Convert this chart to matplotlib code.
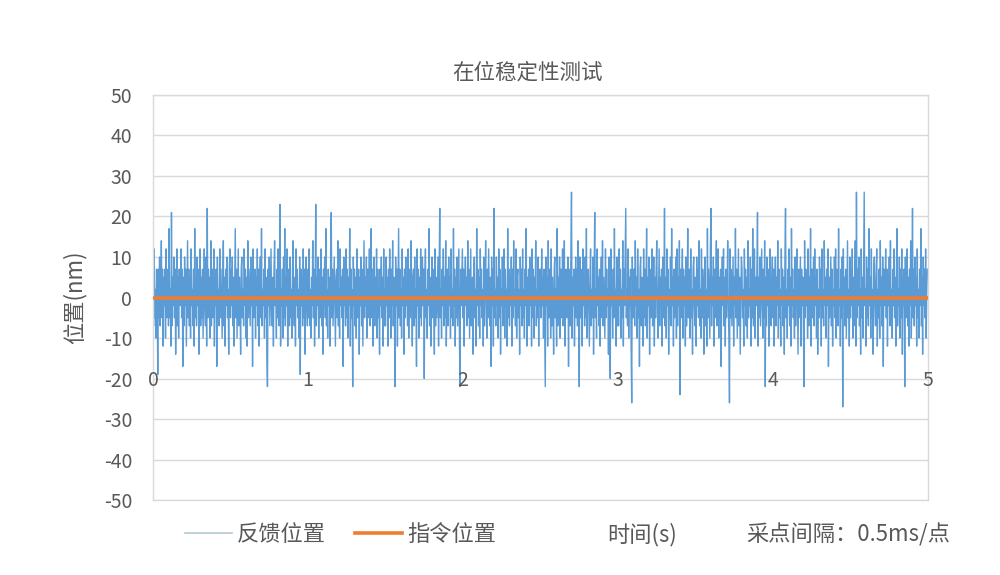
import numpy as np
import matplotlib
matplotlib.use("Agg")
import matplotlib.pyplot as plt
from matplotlib.lines import Line2D

plt.rcParams['font.family'] = ['Noto Sans CJK SC', 'DejaVu Sans']

# ---- data: feedback position (nm), one list per half second of the record ----
fb_00 = [5, -7, 12, -5, 2, -10, 7, -2, -19, 7, -5, 10, -7, 2, 14, -5, 7, -12, 5, -2,
         7, -10, 12, -5, 0, 7, -7, 17, -5, 2, -12, 21, -7, 5, -2, 10, -5, 7, -14, 2,
         12, -7, 5, -10, 7, -2, 0, 12, -5, 7, -17, 5, -7, 10, -2, 7, -12, 2, 14, -5,
         7, -7, 5, -10, 12, -2, 2, -7, 7, -12, 17, -5, 5, -7, 10, -2, 7, -14, 2, 12,
         -7, 5, -5, 7, -10, 2, 12, -2, -7, 10, -12, 22, -5, 7, -2, 5, -10, 14, -7, 2,
         7, -5, 12, -12, 5, -2, 7, -17, 10, -5, 2, -7, 12, -5, 7, -2, -10, 5, 14, -7,
         5, -12, 7, -2, 10, -5, 2, -14, 7, 12]
fb_01 = [-5, 7, -2, 10, -7, 5, -12, 2, 17, -5, 7, -10, 2, 12, -7, 5, -2, -14, 7, 10,
         -5, 2, -7, 12, -2, 7, -10, 5, -12, 14, -5, 7, 0, -7, 10, -2, 5, -17, 12, -5,
         2, 7, -10, 5, -2, 12, -7, 7, -12, 2, 10, -5, 17, -7, 2, -2, 7, -10, 12, -5,
         5, -14, -22, 7, -2, 10, -7, 2, 12, -5, -7, 5, -12, 7, 14, -2, 2, -10, 7, -5,
         12, -7, 5, 23, -12, 2, -2, 7, -10, 10, -5, 17, -7, 5, -2, 12, -12, 7, 2, -7,
         10, -5, 2, -10, 7, 14, -2, -7, 5, -12, 12, -2, 7, -5, 2, -10, 10, -19, 7, -2,
         5, -7, 12, -5, 7, -14, 2, 10, -2, -7]
fb_02 = [7, -5, 12, -7, 2, -10, 5, -2, 14, -5, 7, -12, 2, 23, -7, 5, -2, 10, -10, 7,
         -5, 2, 12, -7, 5, -14, 7, -2, 10, -5, 17, -7, 2, -10, 7, -2, 5, -12, 12, 21,
         -5, 7, -7, 2, 10, -2, -12, 5, 7, -5, 14, -7, 2, -10, 12, -2, 5, -5, 7, -17,
         10, -2, 2, -7, 12, -5, 7, -10, 5, -2, 17, -12, 7, -5, 2, -22, 10, -2, 7, -7,
         5, -10, 12, -5, 2, 7, -14, 5, -2, 10, -7, 7, -12, 2, 14, -5, 5, -2, 10, -10,
         7, -5, 2, 12, -7, -2, 17, -5, 7, -12, 2, 10, -7, 5, -2, 12, -10, 7, -5, 2,
         -14, 7, -2, 10, -5, 5, -12, 12, -7, 2]
fb_03 = [-7, 10, -2, 5, -12, 7, -5, 12, 2, -10, 7, -2, 14, -7, 5, -5, -22, 10, -2, 7,
         -12, 2, 17, -5, 7, -7, 2, -10, 12, -2, 5, -14, 7, -5, 10, -2, 2, -7, 12, -10,
         7, -5, 2, 14, -2, -12, 5, 7, -7, 10, -5, 2, -17, 12, -2, 7, -10, 5, -5, 12,
         -7, 2, 10, -2, 7, -20, 5, 12, -5, 2, -10, 7, -2, 17, -7, 5, -12, 2, 10, -5,
         7, -2, -14, 12, -7, 5, -5, 2, 10, -12, 7, 22, -5, 2, -10, 7, -2, 12, -7, 5,
         -5, 14, -12, 2, 7, -7, 10, -2, 5, -10, 12, -5, 2, -7, 17, -2, 7, -12, 5, -5,
         10, -7, 2, 12, -10, -22, 7, -2, 5, 12]
fb_04 = [-5, 7, -12, 2, 10, -2, 5, -7, 14, -5, 7, -10, 2, 12, -7, -2, 5, -14, 7, 10,
         -5, 2, -12, 17, -2, 7, -7, 5, -10, 12, -2, 7, -5, 2, -12, 10, -7, 5, 14, -2,
         -10, 7, -5, 12, 2, -7, 5, -17, 10, -2, 7, -12, 22, -5, 2, -7, 10, -2, 5, -10,
         12, -5, 7, -14, 2, -2, 10, -7, 5, 12, -10, 7, -2, 2, -12, 17, -5, 7, -7, 5,
         -2, 10, -12, 7, -5, 14, -2, 2, -7, 12, -10, 5, 7, -5, 2, -14, 10, -2, 7, -7,
         12, -5, 2, -10, 7, -2, 17, -12, 5, -5, 7, -7, 10, -2, 2, -12, 12, -5, 7, -10,
         5, -2, 14, -7, 2, -5, 10, -12, 7, -2]
fb_05 = [7, -5, 12, -2, 5, -10, 7, -7, -22, 10, -2, 5, -12, 14, -5, 2, 7, -10, 12, -7,
         5, -2, -14, 7, 10, -5, 2, -12, 17, -7, 5, -2, 10, -10, 7, -5, 2, 12, -7, -2,
         14, -12, 5, 7, -5, -2, 10, -17, 7, 2, -7, 12, 26, -10, 5, -2, 7, -12, 2, 10,
         -5, 7, -7, 14, -2, -22, 10, -5, 7, 2, -12, 12, -2, 5, -7, 10, -5, 17, -10, 2,
         7, -2, -12, 5, 12, -7, 2, -5, 10, -14, 7, 21, -5, 2, -10, 12, -2, 5, -7, 7,
         -12, 2, 10, -5, 14, -7, 5, -2, -10, 12, -5, 7, -2, 2, -14, 10, -7, -20, 12, -2,
         5, -10, 7, -5, 17, -2, 2, -12, 10, -7]
fb_06 = [5, -7, 12, -2, 7, -10, 2, -5, 14, -12, 7, -2, 10, 22, -5, 2, -7, 12, -10, 5,
         -2, 7, -12, -26, 10, -5, 2, 7, -7, 14, -2, 5, -10, 12, -5, 2, -17, 7, 10, -7,
         5, -2, -12, 12, -5, 7, -7, 2, 17, -10, 5, -2, 10, -14, 7, -5, 2, 12, -7, -2,
         10, -12, 5, -5, 7, 14, -2, -10, 2, 12, -7, 5, -2, 7, -12, 10, -5, 2, 22, -7,
         5, -10, 12, -2, 7, -14, 2, -5, 10, -7, 17, -2, 5, -12, 7, -5, 2, 10, -10, 12,
         -7, 5, -2, 14, -24, 7, -5, 2, 12, -10, 7, -2, 5, -12, 10, -7, 2, 17, -5, -2,
         7, -10, 12, -5, 2, -14, 7, 10, -2, -7]
fb_07 = [5, -12, 10, -2, 7, -5, 14, -7, 2, -10, 12, -5, 7, -2, -14, 5, 10, -7, 2, -12,
         17, -5, 7, -2, -10, 12, 22, -7, 5, -2, 10, -12, 7, -5, 2, 14, -7, -2, 12, -10,
         5, -5, 7, -17, 2, 10, -2, 12, -7, 5, -12, 7, -5, 2, 14, -2, -10, -26, 12, -5,
         7, -7, 2, 10, -12, 5, -2, 17, -5, 7, -10, 2, 12, -7, 5, -14, -2, 10, 7, -5,
         2, -12, 12, -2, 7, -7, 5, -10, 14, -5, 2, -2, 10, -12, 7, -5, 17, -7, 2, 12,
         -10, 5, -2, 7, 21, -12, 5, -5, 10, -7, 2, 12, -2, -10, 7, -5, 14, -22, 5, -7,
         10, -2, 7, -12, 2, 12, -5, -7, 5, 10]
fb_08 = [-5, 7, -12, 2, 10, -7, 5, -2, 14, -10, 7, -5, 2, -12, 12, -2, 7, -7, 5, -14,
         10, 22, -5, 2, -10, 7, -2, 12, -7, 5, -12, 17, -2, 7, -5, 2, -10, 10, -7, 5,
         12, -2, -14, 7, -5, 2, 10, -12, 7, -2, 5, -7, -22, 14, -5, 7, -2, 2, -10, 12,
         -7, 5, -2, 17, -12, 7, -5, 2, 10, -7, 12, -2, 5, -10, 7, -14, 2, -5, 10, -2,
         7, -12, 12, -5, 2, -7, 14, -2, 5, -10, 7, -2, 12, -17, 5, -5, 2, 10, -7, 7,
         -12, 2, -2, 10, -5, 12, -10, 7, 5, -7, 17, -2, 2, -12, 7, -5, 10, -27, 12, -2,
         5, -7, 7, -10, 2, 14, -5, 2, -12, 10]
fb_09 = [-5, 7, -2, 12, -10, 5, -7, 2, 14, -12, 26, -5, 7, -2, 10, -7, 2, -14, 12, -5,
         5, -10, 7, 26, -2, 2, -12, 10, -5, 7, -7, 17, -2, 5, -10, 12, -5, 2, -14, 7,
         10, -2, -7, 5, 12, -12, 2, -5, 7, -10, 14, -2, 5, -7, 10, -17, 7, -2, 2, 12,
         -5, 7, -12, 5, -2, 10, -7, 14, -5, 2, -10, 7, -2, 12, -5, 5, -12, 7, 17, -7,
         2, -2, 10, -10, 7, -5, 12, -14, 5, -2, 7, -22, 10, -5, 2, 12, -7, 5, -12, 7,
         -2, 14, -10, 2, 22, -5, 7, -7, 10, -2, 5, -12, 12, -5, 2, -10, 7, -2, 17, -7,
         5, -14, 10, -2, 7, -5, 12, -10, 2, 7]
feedback_halves = [fb_00, fb_01, fb_02, fb_03, fb_04, fb_05, fb_06, fb_07, fb_08, fb_09]
half_len_s = 0.5

cmd_time = [0, 5]
cmd_pos = [0, 0]

x_ticks = [0, 1, 2, 3, 4, 5]
y_ticks = [-50, -40, -30, -20, -10, 0, 10, 20, 30, 40, 50]

title = "在位稳定性测试"
y_label = "位置(nm)"
legend_labels = ["反馈位置", "指令位置"]
x_title = "时间(s)"
note = "采点间隔：0.5ms/点"

# ---- build series (uniform sampling within each half second) ----
t_parts, y_parts = [], []
for k, vals in enumerate(feedback_halves):
    start = k * half_len_s
    t_parts.append(np.linspace(start, start + half_len_s, len(vals), endpoint=False))
    y_parts.append(np.asarray(vals, dtype=float))
t_all = np.concatenate(t_parts)
y_all = np.concatenate(y_parts)

text_c = "#595959"
grid_c = "#d9d9d9"
blue = "#5B9BD5"
orange = "#ED7D31"

fig = plt.figure(figsize=(10, 5.75), dpi=100)
ax = fig.add_axes([0.153, 0.1304, 0.775, 0.7044])

ax.plot(t_all, y_all, color=blue, lw=1.0, zorder=2)
ax.plot(cmd_time, cmd_pos, color=orange, lw=2.6, zorder=3, solid_capstyle='butt')

ax.set_xlim(0, 5)
ax.set_ylim(-50, 50)
ax.set_yticks(y_ticks)
ax.set_yticklabels([str(v) for v in y_ticks])
ax.set_xticks(x_ticks)
ax.set_xticklabels([])
ax.tick_params(axis='both', length=0)
ax.tick_params(axis='y', pad=15, labelsize=14, labelcolor=text_c)
ax.yaxis.grid(True, color=grid_c, lw=1, zorder=0)
ax.set_axisbelow(True)
for sp in ax.spines.values():
    sp.set_color(grid_c)
    sp.set_linewidth(1)

for v in x_ticks:
    ax.text(v, -20.5, str(v), ha='center', va='center', fontsize=14, color=text_c, zorder=4)

ax.set_ylabel(y_label, fontsize=16, color=text_c, labelpad=12)

fig.text(0.527, 0.874, title, ha='center', va='center', fontsize=15.5, color=text_c)

handles = [Line2D([], [], color="#b3c8d3", lw=1.2), Line2D([], [], color=orange, lw=2.6)]
leg = fig.legend(handles, legend_labels, loc='center left', bbox_to_anchor=(0.185, 0.07),
                 ncol=2, frameon=False, fontsize=16, handlelength=2.1, handletextpad=0.25,
                 columnspacing=1.3, borderpad=0, borderaxespad=0)
for t in leg.get_texts():
    t.set_color(text_c)

fig.text(0.642, 0.07, x_title, ha='center', va='center', fontsize=16, color=text_c)
fig.text(0.848, 0.07, note, ha='center', va='center', fontsize=16, color=text_c)

fig.savefig("out.png", dpi=100)
